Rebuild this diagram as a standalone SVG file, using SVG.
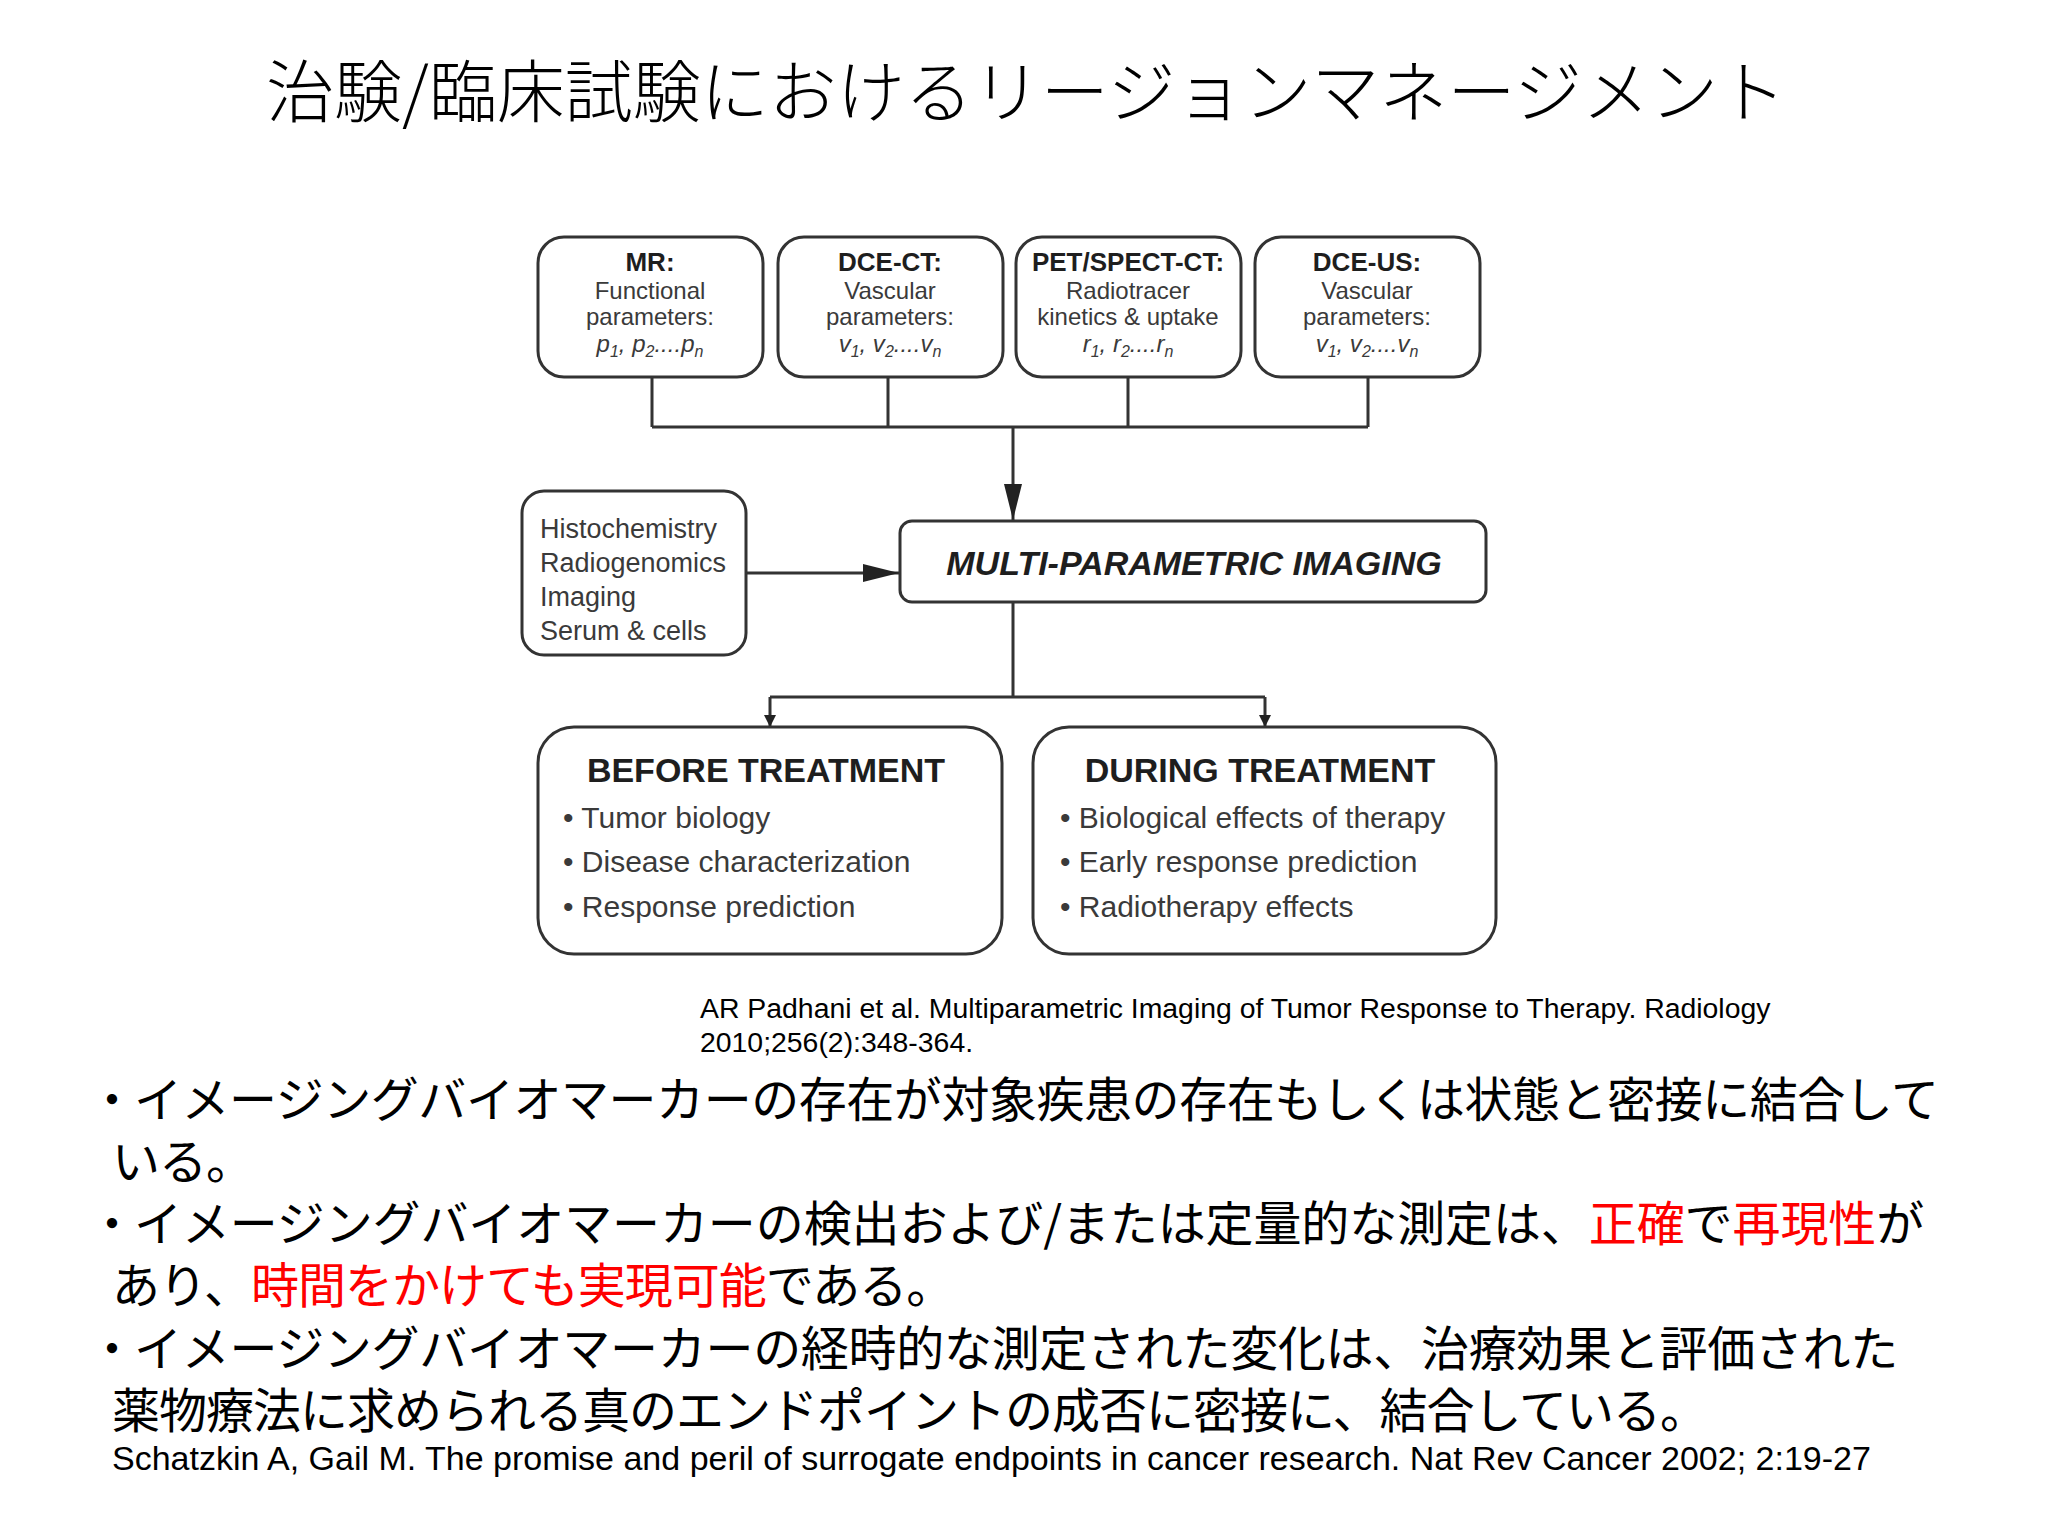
<svg xmlns="http://www.w3.org/2000/svg" width="2048" height="1536" viewBox="0 0 2048 1536">
<style>
.box{fill:#fff;stroke:#333;stroke-width:3}
.ln{fill:none;stroke:#333;stroke-width:3}
.hd{font-family:"Liberation Sans",Arial,sans-serif;font-weight:bold;fill:#1e1e1e}
.tx{font-family:"Liberation Sans",Arial,sans-serif;fill:#3a3a3a}
.jp{font-family:"Noto Sans CJK JP",sans-serif;font-size:48px;letter-spacing:-1px;fill:#000}
.red{fill:#ff0000}
.ref{font-family:"Liberation Sans",Arial,sans-serif;fill:#000}
</style>
<defs>
<marker id="big" viewBox="0 0 36 18" refX="36" refY="9" markerWidth="36" markerHeight="18" markerUnits="userSpaceOnUse" orient="auto"><path d="M0,0 L36,9 L0,18 z" fill="#222"/></marker>
<marker id="small" viewBox="0 0 12 12" refX="12" refY="6" markerWidth="12" markerHeight="12" markerUnits="userSpaceOnUse" orient="auto"><path d="M0,0 L12,6 L0,12 z" fill="#222"/></marker>
</defs>
<rect width="2048" height="1536" fill="#fff"/>

<text id="title" x="1026" y="117" text-anchor="middle" font-family="Noto Sans CJK JP,sans-serif" font-weight="300" font-size="68" fill="#000">治験/臨床試験におけるリージョンマネージメント</text>

<g id="connectors">
<path class="ln" d="M652,377 V427 M888,377 V427 M1128,377 V427 M1368,377 V427 M652,427 H1368"/>
<path class="ln" d="M1013,427 V520" marker-end="url(#big)"/>
<path class="ln" d="M746,573 H899" stroke-width="3.5" marker-end="url(#big)"/>
<path class="ln" d="M1013,602 V697 M770,697 H1265"/>
<path class="ln" d="M770,697 V727" marker-end="url(#small)"/>
<path class="ln" d="M1265,697 V727" marker-end="url(#small)"/>
</g>

<g id="mr">
<rect class="box" x="538" y="237" width="225" height="140" rx="26"/>
<text class="hd" x="650" y="271" font-size="26" text-anchor="middle">MR:</text>
<text class="tx" font-size="24" text-anchor="middle"><tspan x="650" y="299">Functional</tspan><tspan x="650" y="325">parameters:</tspan></text>
<text class="tx" x="650" y="352" font-size="24" font-style="italic" text-anchor="middle">p<tspan font-size="16" dy="5">1</tspan><tspan dy="-5">, p</tspan><tspan font-size="16" dy="5">2</tspan><tspan dy="-5">....p</tspan><tspan font-size="16" dy="5">n</tspan></text>
</g>
<g id="dcect">
<rect class="box" x="778" y="237" width="225" height="140" rx="26"/>
<text class="hd" x="890" y="271" font-size="26" text-anchor="middle">DCE-CT:</text>
<text class="tx" font-size="24" text-anchor="middle"><tspan x="890" y="299">Vascular</tspan><tspan x="890" y="325">parameters:</tspan></text>
<text class="tx" x="890" y="352" font-size="24" font-style="italic" text-anchor="middle">v<tspan font-size="16" dy="5">1</tspan><tspan dy="-5">, v</tspan><tspan font-size="16" dy="5">2</tspan><tspan dy="-5">....v</tspan><tspan font-size="16" dy="5">n</tspan></text>
</g>
<g id="pet">
<rect class="box" x="1016" y="237" width="225" height="140" rx="26"/>
<text class="hd" x="1128" y="271" font-size="26" text-anchor="middle">PET/SPECT-CT:</text>
<text class="tx" font-size="24" text-anchor="middle"><tspan x="1128" y="299">Radiotracer</tspan><tspan x="1128" y="325">kinetics &amp; uptake</tspan></text>
<text class="tx" x="1128" y="352" font-size="24" font-style="italic" text-anchor="middle">r<tspan font-size="16" dy="5">1</tspan><tspan dy="-5">, r</tspan><tspan font-size="16" dy="5">2</tspan><tspan dy="-5">....r</tspan><tspan font-size="16" dy="5">n</tspan></text>
</g>
<g id="dceus">
<rect class="box" x="1255" y="237" width="225" height="140" rx="26"/>
<text class="hd" x="1367" y="271" font-size="26" text-anchor="middle">DCE-US:</text>
<text class="tx" font-size="24" text-anchor="middle"><tspan x="1367" y="299">Vascular</tspan><tspan x="1367" y="325">parameters:</tspan></text>
<text class="tx" x="1367" y="352" font-size="24" font-style="italic" text-anchor="middle">v<tspan font-size="16" dy="5">1</tspan><tspan dy="-5">, v</tspan><tspan font-size="16" dy="5">2</tspan><tspan dy="-5">....v</tspan><tspan font-size="16" dy="5">n</tspan></text>
</g>

<g id="sources">
<rect class="box" x="522" y="491" width="224" height="164" rx="22"/>
<text class="tx" font-size="27"><tspan x="540" y="538">Histochemistry</tspan><tspan x="540" y="572">Radiogenomics</tspan><tspan x="540" y="606">Imaging</tspan><tspan x="540" y="640">Serum &amp; cells</tspan></text>
</g>

<g id="mpi">
<rect class="box" x="900" y="521" width="586" height="81" rx="12"/>
<text class="hd" x="1194" y="575" font-size="34" font-style="italic" text-anchor="middle">MULTI-PARAMETRIC IMAGING</text>
</g>

<g id="before">
<rect class="box" x="538" y="727" width="464" height="227" rx="36"/>
<text class="hd" x="766" y="782" font-size="34" text-anchor="middle">BEFORE TREATMENT</text>
<text class="tx" font-size="30"><tspan x="563" y="828">• Tumor biology</tspan><tspan x="563" y="872">• Disease characterization</tspan><tspan x="563" y="917">• Response prediction</tspan></text>
</g>

<g id="during">
<rect class="box" x="1033" y="727" width="463" height="227" rx="36"/>
<text class="hd" x="1260" y="782" font-size="34" text-anchor="middle">DURING TREATMENT</text>
<text class="tx" font-size="30"><tspan x="1060" y="828">• Biological effects of therapy</tspan><tspan x="1060" y="872">• Early response prediction</tspan><tspan x="1060" y="917">• Radiotherapy effects</tspan></text>
</g>

<text class="ref" font-size="28.4"><tspan x="700" y="1018">AR Padhani et al. Multiparametric Imaging of Tumor Response to Therapy. Radiology</tspan><tspan x="700" y="1052">2010;256(2):348-364.</tspan></text>

<g id="body">
<text class="jp" y="1117"><tspan x="88">・</tspan><tspan x="134" letter-spacing="-0.45">イメージングバイオマーカーの存在が対象疾患の存在もしくは状態と密接に結合して</tspan></text>
<text class="jp" x="112" y="1179">いる。</text>
<text class="jp" y="1241"><tspan x="88">・</tspan><tspan x="134" letter-spacing="-0.1">イメージングバイオマーカーの検出および/または定量的な測定は、<tspan class="red">正確</tspan>で<tspan class="red">再現性</tspan>が</tspan></text>
<text class="jp" x="112" y="1303">あり、<tspan class="red">時間をかけても実現可能</tspan>である。</text>
<text class="jp" y="1366"><tspan x="88">・</tspan><tspan x="134" letter-spacing="-0.3">イメージングバイオマーカーの経時的な測定された変化は、治療効果と評価された</tspan></text>
<text class="jp" x="112" y="1428">薬物療法に求められる真のエンドポイントの成否に密接に、結合している。</text>
<text class="ref" x="112" y="1470" font-size="34">Schatzkin A, Gail M. The promise and peril of surrogate endpoints in cancer research. Nat Rev Cancer 2002; 2:19-27</text>
</g>
</svg>
